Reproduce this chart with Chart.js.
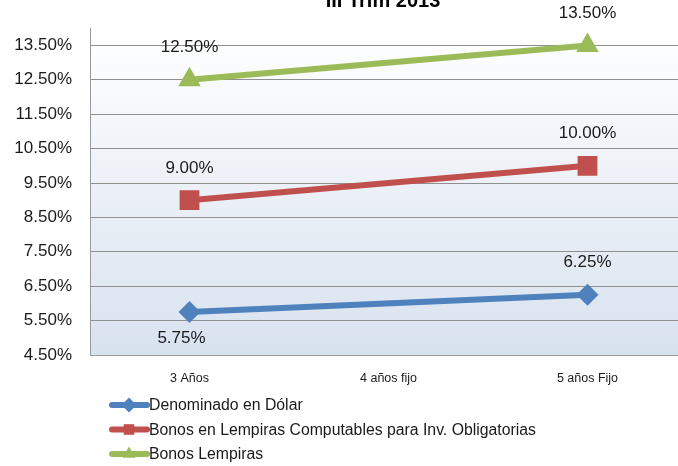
<!DOCTYPE html>
<html lang="es">
<head>
<meta charset="UTF-8">
<title>Tasas III Trim 2013</title>
<style>
  body { margin: 0; overflow: hidden; background: #fff; }
  canvas { display: block; }
</style>
</head>
<body>
<canvas id="lienzo" width="678" height="466"></canvas>
<script src="https://cdn.jsdelivr.net/npm/chart.js"></script>
<script>
// datos
const titulo = "III Trim 2013";
const plazos = ["3 Años", "4 años fijo", "5 años Fijo"];
const nombres = [
  "Denominado en Dólar",
  "Bonos en Lempiras Computables para Inv. Obligatorias",
  "Bonos Lempiras"
];
const dolar = [5.75, null, 6.25];
const computables = [9.0, null, 10.0];
const lempiras = [12.5, null, 13.5];
const ejeMin = 4.5, ejeMax = 14, paso = 1, ultimoTick = 13.5;

const fuente = '"Liberation Sans", Arial, sans-serif';
Chart.defaults.font.family = fuente;
Chart.defaults.color = "#1a1a1a";

const serie = (nombre, valores, color, forma, radio, etiquetas) => ({
  label: nombre,
  data: valores,
  borderColor: color,
  backgroundColor: color,
  borderWidth: 6,
  pointStyle: forma,
  pointRadius: radio,
  pointHoverRadius: radio,
  pointBorderWidth: 0,
  tension: 0,
  spanGaps: true,
  etiquetas: etiquetas
});

// el area de trazado sigue mas alla del borde derecho, como en el original
const recorte = {
  id: "recorte",
  afterLayout(chart) {
    const extra = 9;
    chart.chartArea.right += extra;
    chart.chartArea.width += extra;
    const x = chart.scales.x;
    x.right += extra;
    x.width += extra;
    x.configure();
  }
};

// fondo degradado del area de trazado
const fondo = {
  id: "fondo",
  beforeDraw(chart) {
    const { ctx, chartArea: a } = chart;
    const g = ctx.createLinearGradient(0, a.top, 0, a.bottom);
    g.addColorStop(0, "#ffffff");
    g.addColorStop(1, "#d8e2ef");
    ctx.save();
    ctx.fillStyle = g;
    ctx.fillRect(a.left, a.top, a.right - a.left, a.bottom - a.top);
    ctx.restore();
  }
};

// titulo cortado arriba, etiquetas de datos y leyenda
const extras = {
  id: "extras",
  afterDatasetsDraw(chart) {
    const ctx = chart.ctx;
    ctx.save();
    ctx.font = "17px " + fuente;
    ctx.fillStyle = "#1a1a1a";
    ctx.textAlign = "center";
    ctx.textBaseline = "middle";
    chart.data.datasets.forEach((ds, i) => {
      chart.getDatasetMeta(i).data.forEach((p, j) => {
        const v = ds.data[j];
        if (v == null) return;
        const abajo = ds.etiquetas[j] === "abajo";
        ctx.fillText(v.toFixed(2) + "%", abajo ? p.x - 8 : p.x, p.y + (abajo ? 26 : -32));
      });
    });
    ctx.restore();
  },
  afterDraw(chart) {
    const ctx = chart.ctx;
    ctx.save();
    ctx.font = "bold 20px " + fuente;
    ctx.fillStyle = "#000";
    ctx.textAlign = "center";
    ctx.textBaseline = "alphabetic";
    ctx.fillText(titulo, 383, 7);

    ctx.font = "15.8px " + fuente;
    ctx.textAlign = "left";
    ctx.textBaseline = "middle";
    chart.data.datasets.forEach((ds, i) => {
      const y = 405 + i * 24.5;
      ctx.strokeStyle = ds.borderColor;
      ctx.lineWidth = 6;
      ctx.lineCap = "round";
      ctx.beginPath();
      ctx.moveTo(112, y);
      ctx.lineTo(147, y);
      ctx.stroke();
      ctx.fillStyle = ds.backgroundColor;
      Chart.helpers.drawPoint(ctx, { pointStyle: ds.pointStyle, radius: 7.5, borderWidth: 0 }, 129, y);
      ctx.fillStyle = "#1a1a1a";
      ctx.fillText(ds.label, 149, y + 1);
    });
    ctx.restore();
  }
};

new Chart(document.getElementById("lienzo"), {
  type: "line",
  data: {
    labels: plazos,
    datasets: [
      serie(nombres[0], dolar, "#4f81bd", "rectRot", 11, ["abajo", "", "arriba"]),
      serie(nombres[1], computables, "#c0504d", "rect", 14, ["arriba", "", "arriba"]),
      serie(nombres[2], lempiras, "#9bbb59", "triangle", 13, ["arriba", "", "arriba"])
    ]
  },
  options: {
    responsive: false,
    animation: false,
    layout: { autoPadding: false, padding: { top: 27, right: 0, left: 0, bottom: 0 } },
    plugins: { legend: { display: false }, tooltip: { enabled: false } },
    scales: {
      x: {
        offset: true,
        grid: { display: false, drawTicks: false },
        border: { color: "#9a9a9a" },
        ticks: { padding: 16, font: { size: 12.5 }, color: "#1a1a1a" },
        afterFit(s) { s.height = 111; }
      },
      y: {
        min: ejeMin,
        max: ejeMax,
        ticks: {
          padding: 18,
          font: { size: 17 },
          color: "#1a1a1a",
          callback: v => v.toFixed(2) + "%"
        },
        afterBuildTicks(s) {
          const t = [];
          for (let v = ejeMin; v <= ultimoTick + 1e-9; v += paso) t.push({ value: v });
          s.ticks = t;
        },
        grid: { color: "#8f8f8f", drawTicks: false },
        border: { color: "#9a9a9a" },
        afterFit(s) { s.width = 90; }
      }
    }
  },
  plugins: [recorte, fondo, extras]
});
</script>
</body>
</html>
